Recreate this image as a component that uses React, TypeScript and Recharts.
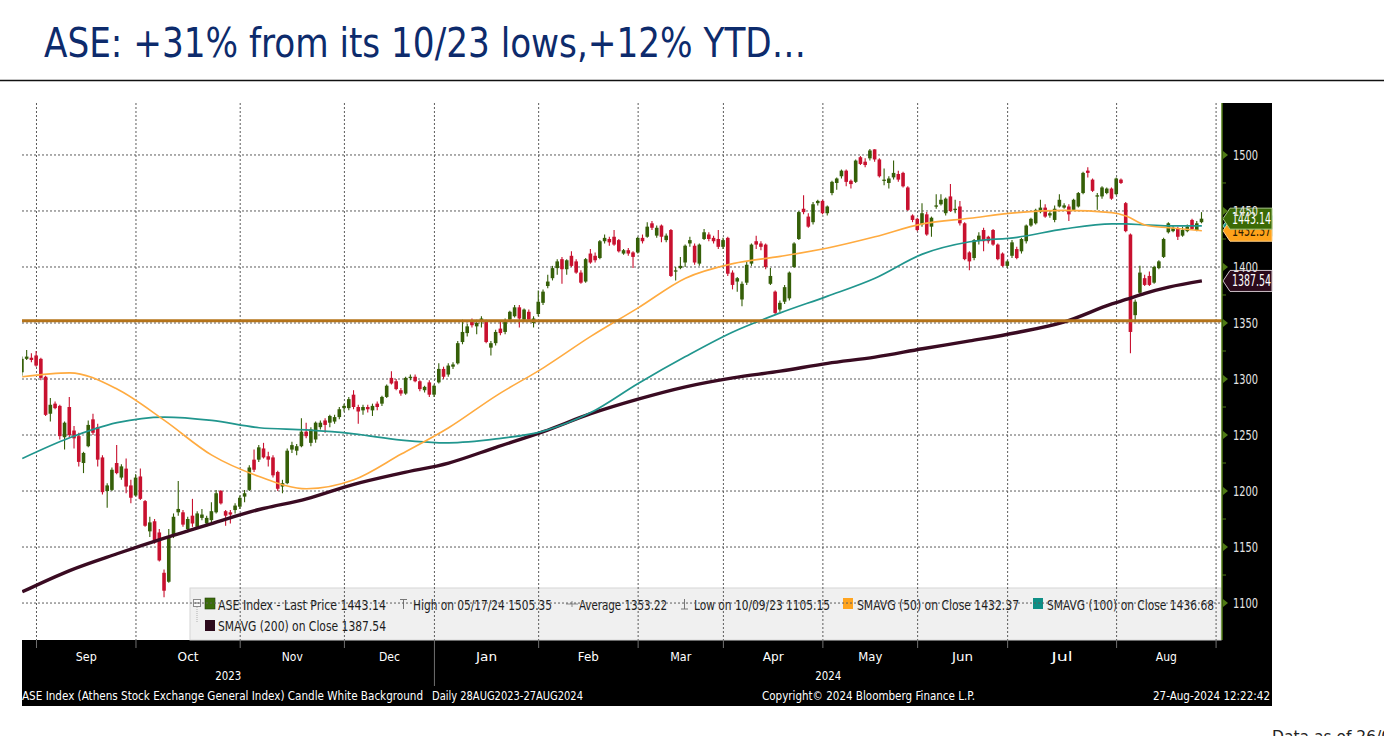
import React from 'react';
import { ComposedChart, Bar, Line, XAxis, YAxis, CartesianGrid, ReferenceLine } from 'recharts';

type OHLC = [number, number, number, number];

// ---- daily candles [open, high, low, close] per month ----
const aug23: OHLC[] = [[1306,1320,1303,1318],[1318,1326,1317,1320],[1319,1323,1315,1317],[1321,1325,1311,1312]];
const sep23: OHLC[] = [[1318,1319,1299,1301],[1302,1303,1267,1268],[1269,1283,1262,1277],[1278,1280,1273,1274],[1276,1277,1246,1249],[1248,1262,1237,1261],[1275,1284,1248,1250],[1254,1258,1238,1247],[1249,1252,1222,1226],[1225,1235,1216,1234],[1240,1263,1239,1259],[1264,1269,1250,1252],[1257,1260,1222,1228],[1230,1232,1197,1199],[1200,1207,1185,1205],[1201,1221,1200,1219],[1225,1241,1215,1216],[1212,1224,1210,1222],[1220,1229,1198,1204],[1205,1210,1189,1194],[1196,1215,1195,1212]];
const oct23: OHLC[] = [[1213,1220,1192,1193],[1191,1192,1168,1169],[1164,1177,1159,1172],[1173,1175,1153,1154],[1163,1166,1137,1138],[1127,1130,1105.15,1111],[1119,1166,1118,1159],[1160,1180,1158,1177],[1181,1209,1178,1184],[1181,1183,1168,1170],[1166,1177,1163,1175],[1178,1193,1168,1171],[1168,1182,1166,1180],[1176,1184,1174,1179],[1171,1178,1168,1176],[1174,1190,1172,1182],[1181,1201,1180,1198],[1200,1201,1188,1189],[1182,1183,1169,1178],[1181,1183,1171,1179],[1183,1189,1180,1187],[1186,1196,1184,1194]];
const nov23: OHLC[] = [[1195,1201,1190,1198],[1201,1223,1200,1221],[1228,1237,1217,1219],[1228,1241,1226,1239],[1238,1243,1229,1230],[1231,1235,1222,1228],[1230,1232,1212,1214],[1217,1218,1200,1202],[1204,1210,1198,1207],[1207,1238,1206,1236],[1237,1244,1234,1241],[1236,1242,1232,1240],[1240,1265,1239,1253],[1253,1261,1247,1249],[1243,1257,1240,1255],[1246,1262,1243,1261],[1257,1263,1255,1261],[1263,1265,1252,1259],[1261,1268,1257,1267],[1262,1268,1260,1266],[1266,1275,1264,1273],[1274,1278,1271,1276]];
const dec23: OHLC[] = [[1274,1284,1272,1282],[1286,1290,1273,1275],[1275,1277,1260,1271],[1272,1277,1268,1275],[1275,1277,1270,1273],[1272,1278,1267,1276],[1278,1280,1272,1275],[1278,1285,1276,1284],[1284,1295,1283,1294],[1301,1307,1295,1296],[1298,1300,1290,1291],[1290,1292,1285,1287],[1287,1302,1286,1301],[1301,1304,1299,1302],[1302,1304,1297,1298],[1298,1299,1289,1291],[1290,1294,1288,1293],[1297,1299,1284,1286],[1286,1295,1284,1294]];
const jan24: OHLC[] = [[1297,1314,1296,1309],[1309,1311,1300,1302],[1304,1314,1302,1312],[1311,1315,1309,1313],[1314,1334,1313,1332],[1333,1353,1331,1342],[1341,1349,1338,1347],[1351,1354,1346,1348],[1347,1353,1340,1350],[1351,1356,1346,1354],[1351,1353,1332,1333],[1328,1334,1321,1332],[1332,1344,1330,1342],[1345,1352,1339,1341],[1342,1354,1340,1352],[1353,1361,1351,1360],[1356,1366,1355,1364],[1364,1366,1346,1354],[1353,1363,1351,1362],[1360,1362,1352,1353],[1350,1356,1346,1354],[1358,1379,1356,1369]];
const feb24: OHLC[] = [[1368,1380,1366,1378],[1383,1393,1381,1387],[1390,1401,1388,1399],[1399,1407,1393,1405],[1407,1409,1385,1398],[1398,1407,1393,1406],[1410,1414,1400,1401],[1405,1407,1394,1395],[1395,1397,1385,1386],[1387,1408,1386,1407],[1412,1416,1403,1404],[1410,1413,1404,1406],[1408,1424,1407,1423],[1423,1429,1421,1426],[1425,1427,1419,1422],[1427,1433,1419,1420],[1424,1425,1413,1414],[1412,1416,1411,1415],[1415,1417,1410,1412],[1413,1414,1399,1409],[1413,1427,1412,1426]];
const mar24: OHLC[] = [[1426,1429,1421,1423],[1427,1440,1426,1436],[1439,1441,1433,1435],[1428,1437,1426,1435],[1437,1438,1422,1427],[1424,1430,1422,1428],[1433,1434,1391,1392],[1396,1400,1388,1397],[1399,1409,1398,1401],[1404,1420,1400,1419],[1421,1427,1418,1424],[1419,1421,1402,1404],[1403,1421,1401,1420],[1425,1434,1424,1431],[1429,1431,1423,1425],[1426,1428,1421,1423],[1425,1433,1416,1418],[1418,1426,1416,1424]];
const apr24: OHLC[] = [[1426,1427,1392,1394],[1395,1397,1380,1384],[1387,1391,1378,1390],[1371,1387,1365,1385],[1386,1405,1384,1402],[1403,1421,1401,1420],[1423,1428,1416,1420],[1421,1423,1415,1418],[1420,1421,1398,1400],[1385,1399,1384,1392],[1378,1379,1358,1359],[1362,1370,1360,1368],[1369,1384,1367,1382],[1372,1396,1370,1395],[1400,1422,1399,1421],[1425,1450,1424,1449],[1452,1464,1447,1449],[1445,1448,1435,1436],[1440,1458,1438,1456],[1457,1460,1455,1459],[1459,1460,1447,1448]];
const may24: OHLC[] = [[1448,1455,1446,1454],[1466,1477,1464,1476],[1475,1480,1469,1479],[1481,1487,1479,1486],[1486,1487,1472,1476],[1477,1478,1470,1474],[1476,1496,1475,1495],[1498,1499,1491,1492],[1494,1497,1489,1491],[1497,1505.35,1495,1504],[1505,1505,1494,1496],[1496,1497,1480,1481],[1477,1488,1473,1478],[1475,1481,1470,1479],[1480,1495,1478,1484],[1483,1486,1476,1478],[1484,1485,1471,1472],[1471,1472,1450,1451],[1446,1447,1440,1442],[1443,1444,1432,1433]];
const jun24: OHLC[] = [[1438,1457,1436,1448],[1447,1449,1428,1429],[1436,1445,1427,1444],[1454,1465,1452,1455],[1456,1465,1455,1460],[1448,1462,1446,1461],[1463,1474,1449,1450],[1451,1460,1448,1452],[1454,1459,1437,1439],[1439,1440,1406,1407],[1413,1414,1397,1405],[1408,1425,1406,1424],[1424,1431,1420,1428],[1433,1435,1414,1423],[1427,1428,1421,1423],[1433,1434,1419,1420],[1420,1421,1406,1407],[1412,1413,1400,1401],[1401,1406,1399,1405]];
const jul24: OHLC[] = [[1410,1424,1408,1422],[1416,1418,1407,1408],[1414,1426,1412,1425],[1423,1438,1421,1437],[1437,1444,1436,1443],[1439,1452,1438,1451],[1449,1460,1448,1453],[1453,1456,1444,1445],[1446,1450,1444,1448],[1442,1455,1440,1452],[1454,1465,1453,1460],[1453,1457,1452,1455],[1454,1456,1441,1447],[1451,1461,1450,1460],[1454,1467,1453,1466],[1466,1485,1465,1484],[1486,1489,1480,1484],[1478,1479,1467,1468],[1463,1466,1451,1464],[1463,1472,1461,1471],[1466,1471,1465,1470],[1470,1471,1460,1461],[1465,1480,1464,1479]];
const aug24: OHLC[] = [[1478,1479,1474,1475],[1457,1458,1431,1432],[1429,1430,1323,1342],[1357,1371,1352,1369],[1377,1401,1375,1395],[1390,1393,1383,1384],[1392,1396,1383,1384],[1386,1401,1385,1400],[1399,1406,1398,1405],[1409,1426,1408,1425],[1431,1440,1430,1439],[1432,1437,1431,1435],[1434,1436,1424,1427],[1428,1436,1427,1433],[1432,1438,1431,1436],[1442,1443,1433,1434],[1433,1441,1432,1439],[1440,1449,1439,1443.14]];

const months: OHLC[][] = [aug23, sep23, oct23, nov23, dec23, jan24, feb24, mar24, apr24, may24, jun24, jul24, aug24];
const monthNames = ['Aug', 'Sep', 'Oct', 'Nov', 'Dec', 'Jan', 'Feb', 'Mar', 'Apr', 'May', 'Jun', 'Jul', 'Aug'];
const yearNames = ['2023', '2024'];
const yearFirstMonth = [0, 5];
const tradingDaysLeftInLastMonth = 3;

// ---- moving averages read at sample trading days ----
const smaDays = [0, 10, 20, 30, 40, 50, 60, 70, 80, 90, 100, 110, 120, 130, 140, 150, 160, 170, 180, 190, 200, 210, 220, 230, 233, 237, 242, 249];
const sma50 = [1302, 1305.5, 1291, 1263, 1232, 1213, 1202, 1210, 1233, 1256.5, 1285, 1310, 1338, 1363.5, 1390, 1403, 1409.5, 1417, 1427, 1438.5, 1443.5, 1448.5, 1450.5, 1448.5, 1445.5, 1437.5, 1435, 1432.37];
const sma100 = [1229, 1247.5, 1261, 1266, 1263, 1256.5, 1254.5, 1251, 1245.5, 1243, 1246.5, 1253.5, 1270, 1296, 1320, 1342, 1359, 1374, 1390, 1411.5, 1422.5, 1426.5, 1434, 1438.5, 1438.5, 1437.5, 1436.7, 1436.68];
const sma200 = [1110, 1129, 1144, 1158, 1171, 1183.5, 1193, 1206, 1216, 1225, 1239, 1253, 1269, 1282, 1293, 1301, 1307, 1314, 1319.5, 1327, 1334, 1341.5, 1351, 1367, 1371, 1376.5, 1382, 1387.54];

const lastPrice = 1443.14;
const highValue = '05/17/24 1505.35';
const averageValue = 1353.22;
const lowValue = '10/09/23 1105.15';
const levelValue = 1352;
const yMajorTicks = [1100, 1150, 1200, 1250, 1300, 1350, 1400, 1450, 1500];
const yMinorTicks = [1125, 1175, 1225, 1275, 1325, 1375, 1425, 1475];
const yDomain: [number, number] = [1067, 1546.4];
const xDomain: [number, number] = [-0.06, 253.25];

const FONT = '"DejaVu Sans Condensed","Liberation Sans Narrow","Roboto Condensed","Arial Narrow","DejaVu Sans",sans-serif';
const GREEN = '#355f08';
const RED = '#c8112f';
const C50 = '#ffab40';
const C100 = '#21968e';
const C200 = '#3a0b22';
const LEVEL = '#b5741b';

// ---- build table ----
const candles = months.flat();
const data: any[] = candles.map(([o, h, l, c], i) => ({ i, o, h, l, c, range: [l, h] }));
smaDays.forEach((d, k) => {
  data[d].sma50 = sma50[k];
  data[d].sma100 = sma100[k];
  data[d].sma200 = sma200[k];
});

const monthEnds: number[] = [];
{
  let acc = 0;
  months.forEach((m, k) => {
    acc += m.length;
    monthEnds.push(acc - 1 + (k === months.length - 1 ? tradingDaysLeftInLastMonth : 0));
  });
}
const tickInfo = new Map<number, { kind: string; label?: string; year?: boolean }>();
monthEnds.forEach((b, k) => tickInfo.set(b, { kind: 'b', year: k + 1 === yearFirstMonth[1] }));
monthEnds.forEach((b, k) => {
  if (k === 0) return;
  tickInfo.set((monthEnds[k - 1] + b) / 2, { kind: 'm', label: monthNames[k] });
});
const yearBoundary = monthEnds[yearFirstMonth[1] - 1];
tickInfo.set((xDomain[0] + yearBoundary) / 2, { kind: 'y', label: yearNames[0] });
tickInfo.set((yearBoundary + xDomain[1]) / 2, { kind: 'y', label: yearNames[1] });
const xTicks = Array.from(tickInfo.keys()).sort((a, b) => a - b);

function T(p: { x: number; y: number; w?: number; size: number; fill: string; anchor?: string; children: any; weight?: number; family?: string }) {
  return (
    <text x={p.x} y={p.y} fontSize={p.size} fill={p.fill} fontFamily={p.family || FONT} textAnchor={p.anchor || 'start'}
      fontWeight={p.weight || 400}
      {...(p.w ? { textLength: p.w, lengthAdjust: 'spacingAndGlyphs' } : {})}>{p.children}</text>
  );
}

function CandleShape(props: any) {
  const { x, y, width, height, payload } = props;
  if (!payload || !isFinite(x) || !isFinite(y)) return null;
  const { o, h, l, c } = payload;
  const top = Math.min(y, y + height);
  const span = Math.abs(height);
  const k = span / (h - l || 1);
  const cx = x + width / 2;
  const yo = top + (h - o) * k;
  const yc = top + (h - c) * k;
  const col = c >= o ? GREEN : RED;
  const bt = Math.min(yo, yc);
  const bh = Math.max(Math.abs(yo - yc), 1.3);
  return (
    <g>
      <line x1={cx} x2={cx} y1={top} y2={top + span} stroke={col} strokeWidth={1.1} />
      <rect x={cx - 1.8} y={bt} width={3.6} height={bh} fill={col} />
    </g>
  );
}

function XTick(props: any) {
  const { x, y, payload } = props;
  const info = tickInfo.get(payload.value);
  if (!info) return null;
  if (info.kind === 'b') {
    return <line x1={x} x2={x} y1={y} y2={y + (info.year ? 46 : 8)} stroke="#707070" strokeWidth={1} />;
  }
  if (info.kind === 'm') {
    return <T x={x} y={y + 21} size={13} fill="#ffffff" anchor="middle" w={info.label === 'May' ? 24 : 21}>{info.label}</T>;
  }
  return <T x={x} y={y + 40} size={13} fill="#ffffff" anchor="middle" w={26}>{info.label}</T>;
}

function YTick(props: any) {
  const { x, y, payload } = props;
  const v = payload.value;
  if (yMinorTicks.includes(v)) {
    return <line x1={x} x2={x + 4} y1={y} y2={y} stroke="#4f7a14" strokeWidth={1} />;
  }
  return (
    <g>
      <polygon points={`${x + 1},${y - 4} ${x + 6},${y} ${x + 1},${y + 4}`} fill="#4f7a14" />
      <T x={x + 11} y={y + 5} size={13.5} fill="#e4e4e4" w={25}>{v}</T>
    </g>
  );
}

function badge(text: string, fill: string, textFill: string, stroke: string) {
  return (props: any) => {
    const vb = props.viewBox || {};
    const x0 = vb.x + vb.width;
    const yc = vb.y;
    if (!isFinite(x0) || !isFinite(yc)) return null;
    return (
      <g>
        <polygon points={`${x0 + 1},${yc} ${x0 + 8},${yc - 10.5} ${x0 + 50},${yc - 10.5} ${x0 + 50},${yc + 10.5} ${x0 + 8},${yc + 10.5}`}
          fill={fill} stroke={stroke} strokeWidth={1} />
        <T x={x0 + 10} y={yc + 5.5} size={15} fill={textFill} w={39}>{text}</T>
      </g>
    );
  };
}

function Legend() {
  const tc = '#1c1c1c';
  const r1 = 609.5;
  const r2 = 631;
  return (
    <g>
      <rect x={190} y={588} width={1031} height={52} fill="#f0f0f0" stroke="#d6d6d6" />
      <rect x={193.5} y={599.5} width={7} height={7} fill="#fafafa" stroke="#8a8a8a" />
      <line x1={195} x2={199} y1={603} y2={603} stroke="#666" />
      <line x1={197} x2={197} y1={607} y2={622} stroke="#b0b0b0" strokeDasharray="1 1" />
      <rect x={205} y={598} width={10} height={11} fill="#3b6c0a" stroke="#24400a" strokeWidth={0.6} />
      <T x={218} y={r1} size={13.5} fill={tc} w={168}>{`ASE Index - Last Price ${lastPrice}`}</T>
      <line x1={400} x2={407} y1={599.5} y2={599.5} stroke="#777" />
      <line x1={403.5} x2={403.5} y1={599.5} y2={609} stroke="#777" />
      <T x={413} y={r1} size={13.5} fill={tc} w={139}>{`High on ${highValue}`}</T>
      <line x1={566} x2={578} y1={604} y2={604} stroke="#888" />
      <line x1={572} x2={572} y1={601} y2={607} stroke="#888" />
      <T x={579} y={r1} size={13.5} fill={tc} w={88}>{`Average ${averageValue}`}</T>
      <line x1={684.5} x2={684.5} y1={599} y2={609} stroke="#777" />
      <line x1={681} x2={688} y1={609} y2={609} stroke="#777" />
      <T x={694} y={r1} size={13.5} fill={tc} w={136}>{`Low on ${lowValue}`}</T>
      <rect x={843} y={598} width={10} height={11} fill="#ffa41f" />
      <T x={857} y={r1} size={13.5} fill={tc} w={162}>{`SMAVG (50)  on Close ${sma50[sma50.length - 1]}`}</T>
      <rect x={1033} y={598} width={10} height={11} fill="#0f8f86" />
      <T x={1047} y={r1} size={13.5} fill={tc} w={167}>{`SMAVG (100)  on Close ${sma100[sma100.length - 1]}`}</T>
      <rect x={205} y={620} width={10} height={11} fill="#2c0a1c" />
      <T x={218} y={r2} size={13.5} fill={tc} w={168}>{`SMAVG (200)  on Close ${sma200[sma200.length - 1]}`}</T>
    </g>
  );
}

export default function App() {
  return (
    <div style={{ position: 'absolute', left: 0, top: 0, width: 1384, height: 736, overflow: 'hidden', background: '#ffffff' }}>
      <svg width={1384} height={736} style={{ position: 'absolute', left: 0, top: 0 }}>
        <T x={44} y={57} size={40} fill="#0d2b6c" w={762}>ASE: +31% from its 10/23 lows,+12% YTD…</T>
        <line x1={0} x2={1384} y1={80.5} y2={80.5} stroke="#111" strokeWidth={1.5} />
        <rect x={1222} y={103} width={50} height={537} fill="#000" />
        <rect x={22} y={640} width={1250} height={66} fill="#000" />
        <Legend />
        <T x={22} y={699.5} size={12.5} fill="#ffffff" w={401}>ASE Index (Athens Stock Exchange General Index) Candle White Background</T>
        <T x={432} y={699.5} size={12.5} fill="#ffffff" w={151}>Daily 28AUG2023-27AUG2024</T>
        <T x={762} y={699.5} size={12.5} fill="#ffffff" w={213}>Copyright© 2024 Bloomberg Finance L.P.</T>
        <T x={1153} y={699.5} size={12.5} fill="#ffffff" w={117}>27-Aug-2024 12:22:42</T>
        <T x={1272} y={742} size={15.5} fill="#222" family='"DejaVu Sans",sans-serif'>Data as of 26/08/2024</T>
      </svg>
      <div style={{ position: 'absolute', left: 0, top: 0 }}>
        <ComposedChart width={1384} height={736} data={data} margin={{ top: 103, left: 22, right: 112, bottom: 30 }}>
          <CartesianGrid stroke="#5c5c5c" strokeDasharray="2 2" horizontalValues={yMajorTicks} verticalValues={monthEnds} />
          <XAxis dataKey="i" type="number" domain={xDomain} allowDataOverflow ticks={xTicks} interval={0}
            tick={<XTick />} tickLine={false} axisLine={false} height={66} tickSize={0} tickMargin={0} />
          <YAxis orientation="right" type="number" domain={yDomain} allowDataOverflow ticks={[...yMajorTicks, ...yMinorTicks].sort((a, b) => a - b)}
            interval={0} tick={<YTick />} tickLine={false} axisLine={{ stroke: '#4f7a14', strokeWidth: 1.5 }} width={50} tickSize={0} tickMargin={0} />
          <Line dataKey="sma200" type="monotone" stroke={C200} strokeWidth={3.4} dot={false} connectNulls isAnimationActive={false} />
          <Line dataKey="sma100" type="monotone" stroke={C100} strokeWidth={1.7} dot={false} connectNulls isAnimationActive={false} />
          <Line dataKey="sma50" type="monotone" stroke={C50} strokeWidth={1.6} dot={false} connectNulls isAnimationActive={false} />
          <Bar dataKey="range" barSize={4} shape={<CandleShape />} isAnimationActive={false} />
          <ReferenceLine y={levelValue} stroke={LEVEL} strokeWidth={3} />
          <ReferenceLine y={sma100[sma100.length - 1]} stroke="none" label={badge(String(sma100[sma100.length - 1]), '#14968c', '#ffffff', '#9fd8d2')} />
          <ReferenceLine y={sma50[sma50.length - 1]} stroke="none" label={badge(String(sma50[sma50.length - 1]), '#ffa21a', '#2a1a00', '#ffd08a')} />
          <ReferenceLine y={lastPrice} stroke="none" label={badge(String(lastPrice), '#3b6a06', '#ffffff', '#a9c98a')} />
          <ReferenceLine y={sma200[sma200.length - 1]} stroke="none" label={badge(String(sma200[sma200.length - 1]), '#2b0a1b', '#ffffff', '#cfc2c9')} />
        </ComposedChart>
      </div>
    </div>
  );
}
